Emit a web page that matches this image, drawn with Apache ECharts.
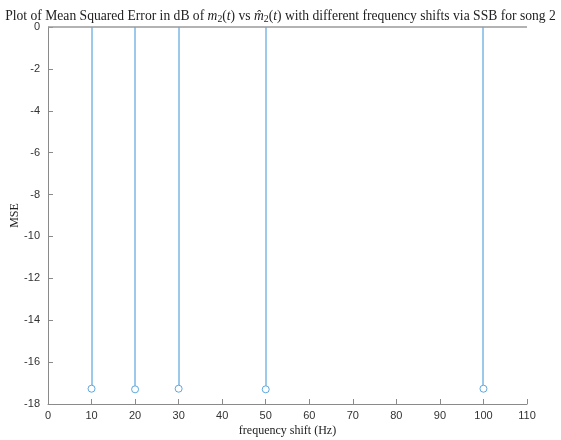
<!DOCTYPE html>
<html>
<head>
<meta charset="utf-8">
<script src="https://cdn.jsdelivr.net/npm/echarts@6/dist/echarts.min.js"></script>
<style>
  html, body { margin: 0; padding: 0; background: #fff; }
  #chart { width: 561px; height: 440px; }
</style>
</head>
<body>
<div id="chart"></div>
<script>
// Frequency shifts (Hz) and the resulting MSE in dB
const shifts = [10, 20, 30, 50, 100];
const mseDb = [-17.27, -17.30, -17.27, -17.30, -17.27];
const xTicks = { min: 0, max: 110, interval: 10 };
const yTicks = { min: -18, max: 0, interval: 2 };

const stemColor = '#3a92d6';
const axisColor = '#8a8a8a';
const points = shifts.map((s, i) => [s, mseDb[i]]);

const chart = echarts.init(document.getElementById('chart'));
chart.setOption({
  animation: false,
  backgroundColor: '#fff',
  title: {
    left: 'center',
    top: 3,
    text: '{a|Plot of Mean Squared Error in dB of }{i|m}{s|2}{a|(}{i|t}{a|) vs }{i|m\u0302}{s|2}{a|(}{i|t}{a|) with different frequency shifts via SSB for song 2}',
    textStyle: {
      fontWeight: 'normal',
      rich: {
        a: { fontFamily: 'Liberation Serif', fontWeight: 'normal', fontSize: 13.6, color: '#222' },
        i: { fontFamily: 'Liberation Serif', fontWeight: 'normal', fontStyle: 'italic', fontSize: 13.6, color: '#222' },
        s: { fontFamily: 'Liberation Serif', fontWeight: 'normal', fontSize: 9.8, color: '#222', verticalAlign: 'bottom', padding: [6, 0, 0, 0] }
      }
    }
  },
  grid: { left: 48, right: 34, top: 27, bottom: 36, containLabel: false, outerBoundsMode: 'none' },
  xAxis: {
    type: 'value',
    min: xTicks.min, max: xTicks.max, interval: xTicks.interval,
    name: 'frequency shift (Hz)',
    nameLocation: 'middle',
    nameGap: 21,
    nameMoveOverlap: false,
    nameTextStyle: { fontFamily: 'Liberation Serif', fontSize: 12, color: '#222' },
    axisLine: { onZero: false, lineStyle: { color: axisColor, width: 1 } },
    axisTick: { inside: true, length: 5, lineStyle: { color: axisColor } },
    axisLabel: { fontFamily: 'Liberation Sans', fontSize: 11, color: '#333', margin: 6 },
    splitLine: { show: false }
  },
  yAxis: {
    type: 'value',
    min: yTicks.min, max: yTicks.max, interval: yTicks.interval,
    name: 'MSE',
    nameLocation: 'middle',
    nameGap: 27,
    nameMoveOverlap: false,
    nameRotate: 90,
    nameTextStyle: { fontFamily: 'Liberation Serif', fontSize: 12, color: '#222' },
    axisLine: { show: true, lineStyle: { color: axisColor, width: 1 } },
    axisTick: { show: true, inside: true, length: 5, lineStyle: { color: axisColor } },
    axisLabel: { fontFamily: 'Liberation Sans', fontSize: 11, color: '#333', margin: 8 },
    splitLine: { show: false }
  },
  series: [
    {
      // stem baseline at y = 0
      type: 'line',
      data: [],
      silent: true,
      markLine: {
        silent: true,
        symbol: 'none',
        label: { show: false },
        lineStyle: { color: '#9a9a9a', width: 1.5, type: 'solid' },
        data: [{ yAxis: 0 }]
      }
    },
    {
      // vertical stems
      type: 'custom',
      silent: true,
      data: points,
      renderItem: function (params, api) {
        const top = api.coord([api.value(0), 0]);
        const end = api.coord([api.value(0), api.value(1)]);
        const x = Math.round(top[0]);
        return {
          type: 'line',
          shape: { x1: x, y1: top[1], x2: x, y2: end[1] - 3.5 },
          style: { stroke: stemColor, lineWidth: 1 }
        };
      }
    },
    {
      // open circle markers at stem tips
      type: 'scatter',
      data: points,
      symbol: 'circle',
      symbolSize: 7,
      itemStyle: { color: '#fff', borderColor: stemColor, borderWidth: 1 }
    }
  ]
});
</script>
</body>
</html>
